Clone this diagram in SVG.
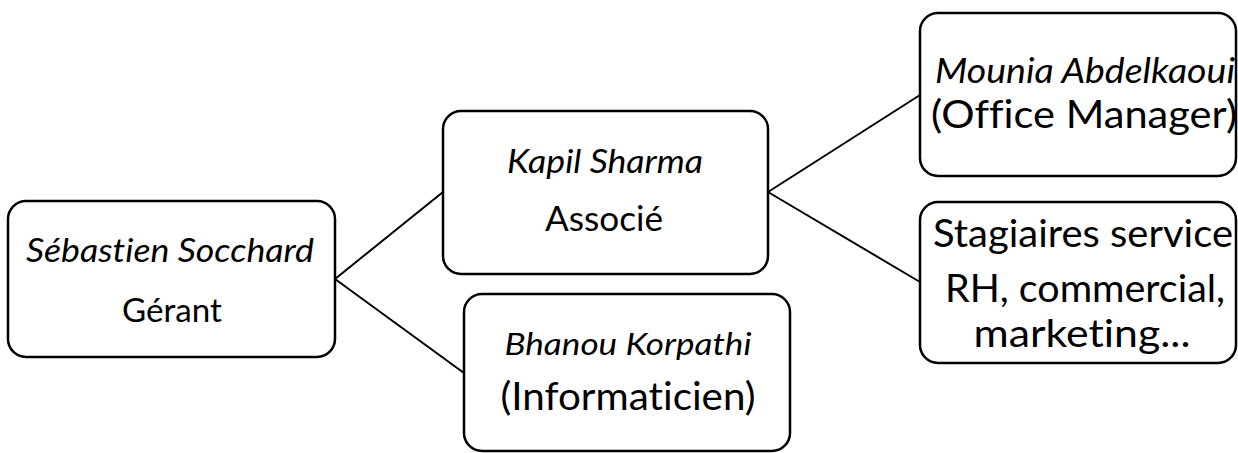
<svg xmlns="http://www.w3.org/2000/svg" width="1238" height="453" viewBox="0 0 1238 453">
<style>
.box{fill:#fff;stroke:#000;stroke-width:2.5}
.ln{stroke:#000;stroke-width:2;fill:none}
text{font-family:Lato,"Open Sans",sans-serif;fill:#000;text-anchor:middle;font-variant-ligatures:none}
.it{font-style:italic}
</style>
<rect width="1238" height="453" fill="#fff"/>
<g id="connectors">
<line class="ln" x1="335" y1="279" x2="443" y2="192"/>
<line class="ln" x1="335" y1="279" x2="464" y2="373"/>
<line class="ln" x1="768" y1="192" x2="920" y2="95"/>
<line class="ln" x1="768" y1="192" x2="920" y2="282"/>
</g>
<g id="n1">
<rect class="box" x="8" y="201" width="327" height="156" rx="18"/>
<text class="it" x="170" y="262" font-size="33" textLength="288" lengthAdjust="spacingAndGlyphs">Sébastien Socchard</text>
<text x="172" y="322" font-size="33" textLength="100" lengthAdjust="spacingAndGlyphs">Gérant</text>
</g>
<g id="n2">
<rect class="box" x="443" y="111" width="325" height="163" rx="18"/>
<text class="it" x="605" y="173" font-size="33" textLength="196" lengthAdjust="spacingAndGlyphs">Kapil Sharma</text>
<text x="604" y="231" font-size="35" textLength="118" lengthAdjust="spacingAndGlyphs">Associé</text>
</g>
<g id="n3">
<rect class="box" x="464" y="294" width="326" height="157" rx="18"/>
<text class="it" x="628" y="355" font-size="31" textLength="247" lengthAdjust="spacingAndGlyphs">Bhanou Korpathi</text>
<text x="628" y="410" font-size="38" textLength="255" lengthAdjust="spacingAndGlyphs">(Informaticien)</text>
</g>
<g id="n4">
<rect class="box" x="920" y="13" width="316" height="163" rx="18"/>
<text class="it" x="1085" y="83" font-size="34" textLength="300" lengthAdjust="spacingAndGlyphs">Mounia Abdelkaoui</text>
<text x="1084" y="128" font-size="39" textLength="306" lengthAdjust="spacingAndGlyphs">(Office Manager)</text>
</g>
<g id="n5">
<rect class="box" x="920" y="202" width="316" height="161" rx="18"/>
<text x="1083" y="247" font-size="38.5" textLength="300" lengthAdjust="spacingAndGlyphs">Stagiaires service</text>
<text x="1085" y="302" font-size="38.5" textLength="280" lengthAdjust="spacingAndGlyphs">RH, commercial,</text>
<text x="1082" y="347" font-size="38.5" textLength="217" lengthAdjust="spacingAndGlyphs">marketing...</text>
</g>
</svg>
